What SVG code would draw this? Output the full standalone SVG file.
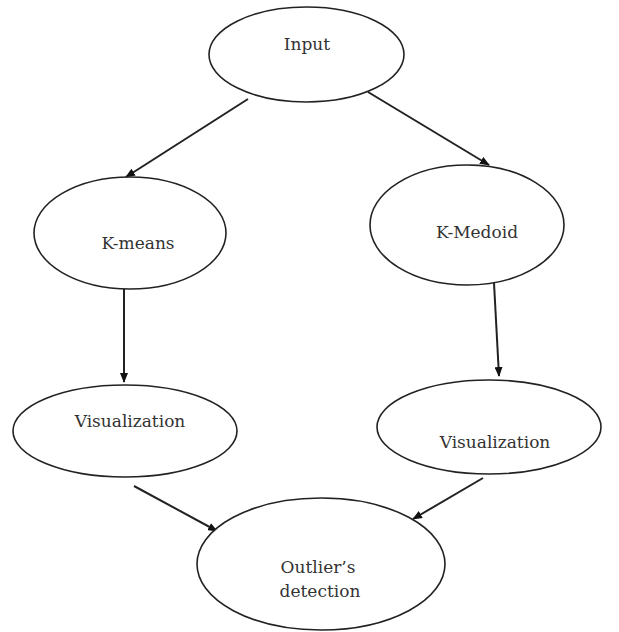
<svg xmlns="http://www.w3.org/2000/svg" width="619" height="632" viewBox="0 0 619 632">
<defs>
<marker id="ah" markerWidth="10" markerHeight="8" refX="9" refY="4" orient="auto" markerUnits="userSpaceOnUse">
<path d="M0,0 L10,4 L0,8 Z" fill="#111"/>
</marker>
<style>
.n ellipse{fill:#fff;stroke:#222;stroke-width:1.6}
.n text{font-family:'DejaVu Serif',serif;font-size:17px;fill:#333;text-anchor:middle}
#edges line{stroke:#222;stroke-width:2;marker-end:url(#ah)}
</style>
</defs>
<rect width="619" height="632" fill="#fff"/>
<g id="edges">
<line x1="248" y1="99" x2="126" y2="177"/>
<line x1="368" y1="92" x2="489" y2="165"/>
<line x1="124" y1="283" x2="124" y2="382"/>
<line x1="494" y1="283" x2="499" y2="376"/>
<line x1="134" y1="486" x2="217" y2="531"/>
<line x1="483" y1="478" x2="413" y2="519"/>
</g>
<g id="input" class="n"><ellipse cx="306.5" cy="54.5" rx="97.5" ry="47.5"/><text x="307" y="50">Input</text></g>
<g id="kmeans" class="n"><ellipse cx="130" cy="233" rx="96" ry="56"/><text x="138" y="249">K-means</text></g>
<g id="kmedoid" class="n"><ellipse cx="467" cy="225" rx="97" ry="60"/><text x="477" y="238">K-Medoid</text></g>
<g id="vis1" class="n"><ellipse cx="125" cy="431" rx="112" ry="46"/><text x="130" y="427">Visualization</text></g>
<g id="vis2" class="n"><ellipse cx="489" cy="427" rx="112" ry="47"/><text x="495" y="448">Visualization</text></g>
<g id="outlier" class="n"><ellipse cx="321" cy="564" rx="124" ry="66"/><text x="318" y="573">Outlier’s</text><text x="320" y="597">detection</text></g>
</svg>
